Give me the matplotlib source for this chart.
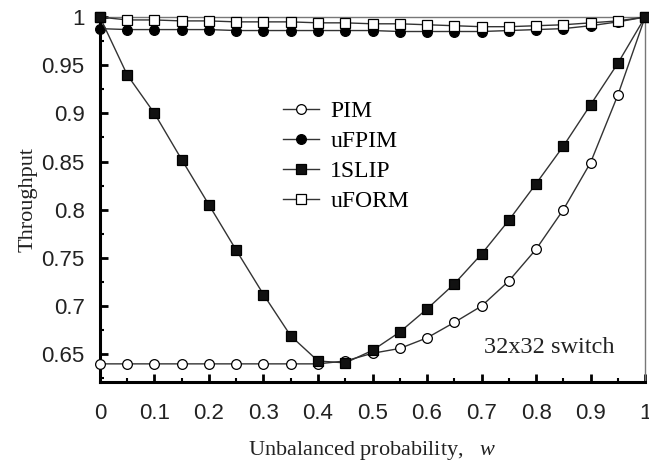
import numpy as np
import matplotlib
matplotlib.use('Agg')
import matplotlib.pyplot as plt
from matplotlib.ticker import MultipleLocator

# unbalanced probability w
w = [0.0, 0.05, 0.1, 0.15, 0.2, 0.25, 0.3, 0.35, 0.4, 0.45, 0.5,
     0.55, 0.6, 0.65, 0.7, 0.75, 0.8, 0.85, 0.9, 0.95, 1.0]

pim = [0.640, 0.640, 0.640, 0.640, 0.640, 0.640, 0.640, 0.640, 0.640, 0.643, 0.651,
       0.656, 0.667, 0.683, 0.700, 0.726, 0.759, 0.800, 0.849, 0.919, 1.0]
ufpim = [0.988, 0.987, 0.987, 0.987, 0.987, 0.986, 0.986, 0.986, 0.986, 0.986, 0.986,
         0.985, 0.985, 0.985, 0.985, 0.986, 0.987, 0.988, 0.991, 0.995, 1.0]
slip = [1.0, 0.940, 0.900, 0.852, 0.805, 0.758, 0.712, 0.669, 0.643, 0.641, 0.654,
        0.673, 0.697, 0.723, 0.754, 0.789, 0.827, 0.866, 0.909, 0.952, 1.0]
uform = [1.0, 0.997, 0.997, 0.996, 0.996, 0.995, 0.995, 0.995, 0.994, 0.994, 0.993,
         0.993, 0.992, 0.991, 0.990, 0.990, 0.991, 0.992, 0.994, 0.996, 1.0]

serif = 'Liberation Serif'
sans = 'Liberation Sans'

plt.rcParams['mathtext.fontset'] = 'custom'
plt.rcParams['mathtext.it'] = 'Liberation Serif:italic'
plt.rcParams['mathtext.rm'] = 'Liberation Serif'

fig = plt.figure(figsize=(6.49, 4.61), dpi=100)
ax = fig.add_axes([0.154, 0.171, 0.840, 0.792])

lc = '#333333'
ax.plot(w, pim, '-o', color=lc, lw=1.0, ms=7, mfc='white', mec='black', mew=0.9,
        label='PIM', clip_on=False, zorder=3)
ax.plot(w, ufpim, '-o', color=lc, lw=1.0, ms=7, mfc='black', mec='black', mew=0.9,
        label='uFPIM', clip_on=False, zorder=3)
ax.plot(w, uform, '-s', color=lc, lw=1.0, ms=7, mfc='white', mec='black', mew=0.9,
        label='uFORM', clip_on=False, zorder=4)
ax.plot(w, slip, '-s', color=lc, lw=1.0, ms=7, mfc='#111111', mec='black', mew=0.9,
        label='1SLIP', clip_on=False, zorder=5)

ax.set_xlim(0, 1)
ax.set_ylim(0.621, 1.0)

ax.xaxis.set_major_locator(MultipleLocator(0.1))
ax.xaxis.set_minor_locator(MultipleLocator(0.05))
ax.yaxis.set_major_locator(MultipleLocator(0.05))
ax.yaxis.set_minor_locator(MultipleLocator(0.025))
ax.xaxis.set_major_formatter(plt.FuncFormatter(lambda v, p: '%g' % round(v, 2)))
ax.yaxis.set_major_formatter(plt.FuncFormatter(lambda v, p: '%g' % round(v, 3)))

ax.tick_params(which='major', direction='in', length=6, width=2, labelsize=16,
               labelfontfamily=sans, labelcolor='#222222')
ax.tick_params(which='minor', direction='in', length=3, width=1.5)
ax.tick_params(axis='x', pad=15)
ax.tick_params(axis='y', pad=11)

ax.spines['left'].set_linewidth(2.2)
ax.spines['bottom'].set_linewidth(2.2)
ax.spines['top'].set_linewidth(1.0)
ax.spines['right'].set_linewidth(1.0)
ax.spines['top'].set_color('#777777')
ax.spines['right'].set_color('#777777')

ax.set_ylabel('Throughput', fontfamily=serif, fontsize=16, color='#222222', labelpad=3)
ax.set_xlabel('Unbalanced probability,   $w$', fontfamily=serif,
              fontsize=16, color='#222222', labelpad=11)

handles, labels = ax.get_legend_handles_labels()
order = [0, 1, 3, 2]
leg = ax.legend([handles[i] for i in order], [labels[i] for i in order],
                loc='upper left', bbox_to_anchor=(0.297, 0.83), frameon=False,
                prop={'family': serif, 'size': 17}, handlelength=1.5,
                handletextpad=0.5, labelspacing=0.36)

ax.text(0.824, 0.096, '32x32 switch', transform=ax.transAxes, ha='center', va='center',
        fontfamily=serif, fontsize=17.5, color='#222222')

fig.savefig('out.png', dpi=100)
